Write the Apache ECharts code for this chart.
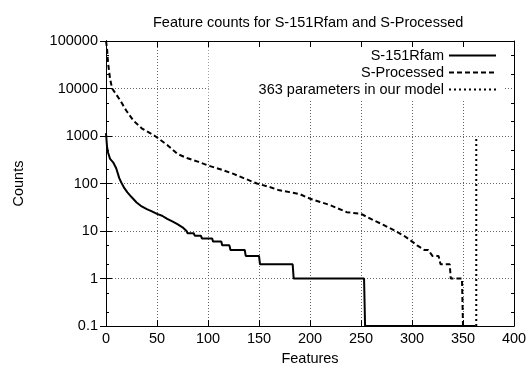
<!DOCTYPE html>
<html>
<head>
<meta charset="utf-8">
<script src="https://cdn.jsdelivr.net/npm/echarts@6/dist/echarts.min.js"></script>
<style>
  html, body { margin: 0; padding: 0; background: #fff; }
  #chart { width: 530px; height: 371px; }
</style>
</head>
<body>
<div id="chart"></div>
<script>
// S-151Rfam: feature rank -> count
var rfamX = [0, 1, 2, 4, 7, 10, 13, 15, 18, 21, 25, 30, 35, 40, 45, 50, 55, 60, 65, 70, 75, 79, 80, 86, 87, 93, 94, 104, 105, 113, 114, 121, 122, 136, 137, 150, 151, 183, 184, 253, 254, 362];
var rfamY = [1150, 600, 450, 330, 280, 210, 130, 105, 80, 65, 52, 40, 33, 29, 26, 23, 21, 18, 16, 14, 12, 10, 9, 9, 8, 8, 7, 7, 6, 6, 5, 5, 4, 4, 3, 3, 2, 2, 1, 1, 0.1, 0.1];

// S-Processed
var procX = [0, 1, 2, 4, 6, 10, 14, 20, 27, 35, 48, 60, 70, 80, 90, 100, 112, 125, 135, 148, 160, 170, 180, 190, 200, 210, 220, 236, 250, 262, 272, 284, 292, 298, 305, 312, 316, 320, 326, 328, 337, 338, 349, 350, 362];
var procY = [100000, 70000, 35000, 16000, 10000, 7500, 5600, 3400, 2100, 1450, 1000, 650, 420, 340, 290, 240, 200, 160, 130, 100, 85, 72, 66, 60, 48, 41, 35, 25, 23, 17, 13.5, 10, 8, 6.5, 5, 4, 4, 3, 3, 2, 2, 1, 1, 0.1, 0.1];

// 363 parameters marker
var modelX = [363, 363];
var modelY = [0.1, 1000];

var seriesNames = ['S-151Rfam', 'S-Processed', '363 parameters in our model'];
var yMinorTicks = [0.2, 0.5, 2, 5, 20, 50, 200, 500, 2000, 5000, 20000, 50000];

function pairs(xs, ys) {
  return xs.map(function (x, i) { return [x, ys[i]]; });
}

var font = 'Liberation Sans, Arial, Helvetica, sans-serif';
var myChart = echarts.init(document.getElementById('chart'));

function yAx(pos, opts) {
  var base = {
    type: 'log', logBase: 10, min: 0.1, max: 100000, position: pos,
    axisLine: { show: true, lineStyle: { color: '#000', width: 1 } },
    axisTick: { show: true, inside: true, length: 6, lineStyle: { color: '#000' } },
    axisLabel: { show: false },
    splitLine: { show: false },
    z: 10
  };
  return Object.assign(base, opts || {});
}

var option = {
  animation: false,
  backgroundColor: '#fff',
  textStyle: { fontFamily: font },
  title: {
    text: 'Feature counts for S-151Rfam and S-Processed',
    left: 148, top: 10,
    textStyle: { fontFamily: font, fontSize: 14.5, fontWeight: 'normal', color: '#000' }
  },
  grid: { left: 106, right: 16, top: 41, bottom: 42 },
  legend: {
    orient: 'vertical', right: 25, top: 41, align: 'right',
    itemWidth: 47, itemHeight: 14, itemGap: 2,
    padding: [7, 8, 2, 50],
    backgroundColor: '#fff',
    selectedMode: false,
    itemStyle: { opacity: 0 },
    textStyle: { fontFamily: font, fontSize: 14.5, color: '#000' },
    data: seriesNames
  },
  xAxis: [{
    type: 'value', min: 0, max: 400, interval: 50, position: 'bottom',
    name: 'Features', nameLocation: 'middle', nameGap: 21,
    nameTextStyle: { fontFamily: font, fontSize: 14.5, color: '#000' },
    axisLine: { show: true, lineStyle: { color: '#000' } },
    axisTick: { inside: true, length: 6, lineStyle: { color: '#000' } },
    axisLabel: { fontFamily: font, fontSize: 14.5, color: '#000', margin: 5 },
    splitLine: { show: true, lineStyle: { color: '#666', type: [1, 2], width: 1 } }
  }, {
    type: 'value', min: 0, max: 400, interval: 50, position: 'top',
    axisLine: { show: true, lineStyle: { color: '#000' } },
    axisTick: { inside: true, length: 6, lineStyle: { color: '#000' } },
    axisLabel: { show: false },
    splitLine: { show: false },
    z: 10
  }],
  yAxis: [
    yAx('left', {
      name: 'Counts', nameLocation: 'middle', nameGap: 80,
      nameTextStyle: { fontFamily: font, fontSize: 14.5, color: '#000' },
      axisLabel: {
        show: true, fontFamily: font, fontSize: 14.5, color: '#000', margin: 8,
        formatter: function (v) { return String(+v.toPrecision(6)); }
      },
      splitLine: { show: true, lineStyle: { color: '#666', type: [1, 2], width: 1 } },
      z: 0
    }),
    yAx('right'),
    yAx('left', { axisTick: { show: true, inside: true, length: 3, customValues: yMinorTicks, lineStyle: { color: '#000' } } }),
    yAx('right', { axisTick: { show: true, inside: true, length: 3, customValues: yMinorTicks, lineStyle: { color: '#000' } } })
  ],
  series: [{
    name: seriesNames[0], type: 'line', symbol: 'none',
    lineStyle: { color: '#000', width: 2 },
    itemStyle: { color: '#000' },
    data: pairs(rfamX, rfamY)
  }, {
    name: seriesNames[1], type: 'line', symbol: 'none',
    lineStyle: { color: '#000', width: 2, type: [5, 3] },
    itemStyle: { color: '#000' },
    data: pairs(procX, procY)
  }, {
    name: seriesNames[2], type: 'line', symbol: 'none',
    lineStyle: { color: '#000', width: 2, type: [2, 3] },
    itemStyle: { color: '#000' },
    data: pairs(modelX, modelY)
  }]
};

myChart.setOption(option);
</script>
</body>
</html>
